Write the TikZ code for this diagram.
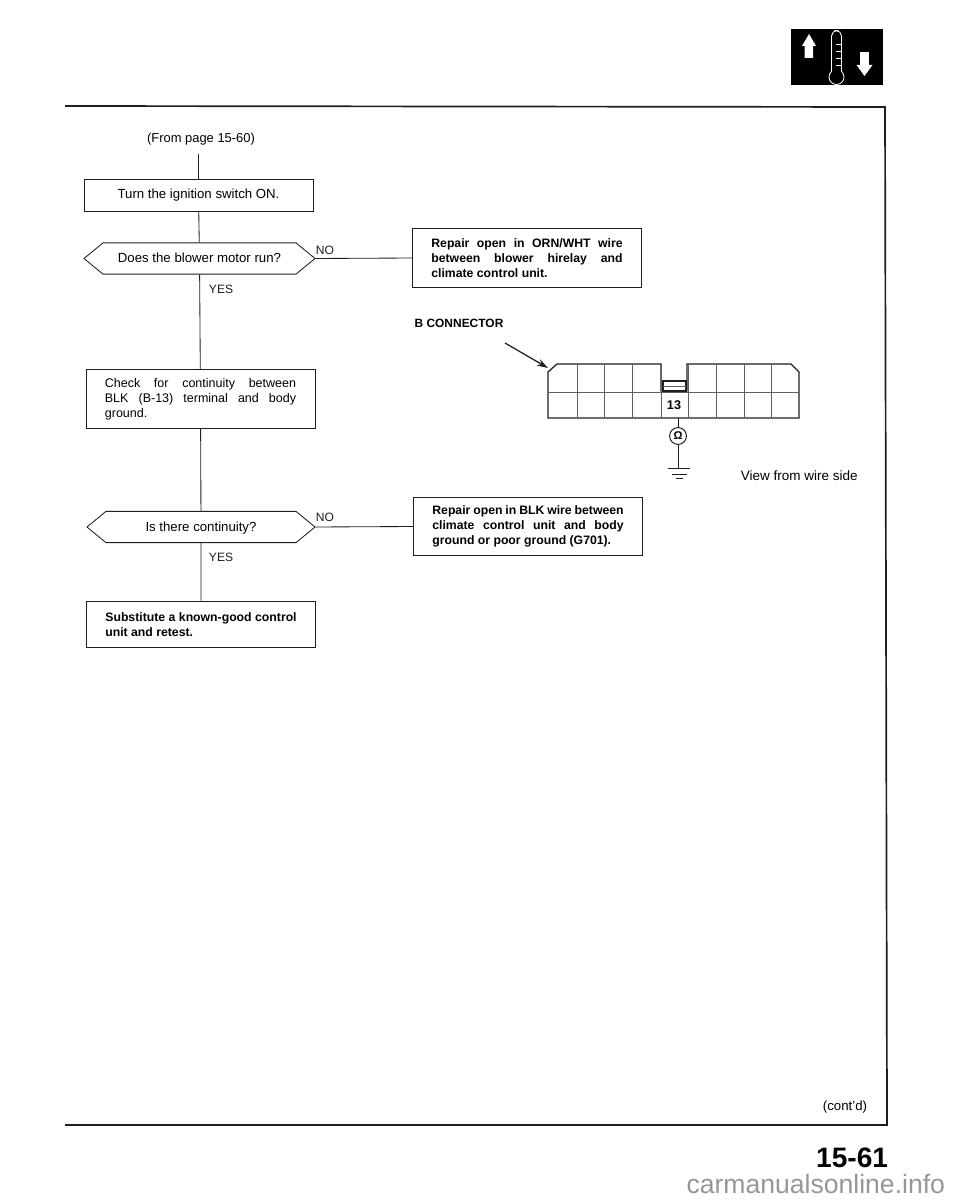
\documentclass[tikz,border=0pt]{standalone}
\usepackage{fontspec}
\setmainfont{Liberation Sans}
\usepackage{xcolor}
\usepackage{tikz}
\usetikzlibrary{arrows.meta,positioning,calc,shapes.misc}
\definecolor{clrInk}{RGB}{30,30,30}
\definecolor{clrMark}{RGB}{150,150,150}
\newcommand{\asktext}[1]{\raisebox{-3.2pt}{#1}}
\tikzset{
  stepbox/.style={rectangle,draw=clrInk,line width=0.6pt,fill=white,
    font=\fontsize{9.4}{11}\selectfont,minimum width=5.725cm,align=center,inner sep=0pt},
  repairbox/.style={rectangle,draw=clrInk,line width=0.6pt,fill=white,
    font=\fontsize{8.7}{10.8}\selectfont\bfseries,text width=4.78cm,align=justify,
    inner xsep=0.4725cm,inner ysep=0pt},
  decision/.style={chamfered rectangle,chamfered rectangle angle=50.6,
    chamfered rectangle ysep=0.39cm,
    draw=clrInk,line width=0.6pt,fill=white,
    font=\fontsize{9.4}{11}\selectfont,minimum width=5.725cm,inner sep=0pt,
    text height=0pt,text depth=0pt},
  wire/.style={line width=0.6pt,color=clrInk},
  answer/.style={font=\fontsize{8.6}{11}\selectfont,text=clrInk}
}
\begin{document}
\begin{tikzpicture}[
    x=0.025cm,y=-0.025cm,
    >=Stealth,
    conn/.style={draw=clrInk,line width=0.9pt},
    grid/.style={draw=clrInk!70,line width=0.4pt}
]
\useasboundingbox (0,0) rectangle (960,1200);

% Page frame and tab
\draw[line width=1.2pt,clrInk] (65,106) -- (885,107) -- (887,1125) -- (65,1125);
\fill[black] (791,29) rectangle (883,85);
\fill[white] (809,34) -- (816,46) -- (813,46) -- (813,58) -- (804.5,58) -- (804.5,46) -- (802,46) -- cycle;
\fill[white] (860,52) rectangle (869,65);
\fill[white] (856.5,65) -- (872.5,65) -- (864.5,76) -- cycle;
\draw[white,line width=0.6pt,rounded corners=4pt] (831.5,74) -- (831.5,30.5) -- (841.5,30.5) -- (841.5,74);
\draw[white,line width=0.6pt,fill=black] (836.5,77) circle[radius=7.5];
\fill[black] (832.2,68) rectangle (840.8,72);
\foreach \y in {44,51,58,65} \draw[white,line width=0.4pt] (836,\y) -- (841,\y);

% Flow down the left side
\node[font=\fontsize{9.2}{11}\selectfont] (frompage) at (201,139) {(From page 15-60)};
\node[stepbox,minimum height=0.78cm] (turn) at (198.5,195.5) {Turn the ignition switch ON.};
\node[decision,minimum width=5.775cm] (blower) at (199.5,258.5) {\asktext{Does the blower motor run?}};
\node[repairbox,minimum height=1.47cm] (repairA) at (527,258) {%
  Repair open in ORN/WHT wire\linebreak between blower hirelay and\linebreak climate control unit.};
\node[stepbox,text width=4.78cm,align=justify,
  inner xsep=0.4725cm,minimum height=1.47cm,font=\fontsize{8.9}{10.8}\selectfont] (check) at (200.5,399) {%
  Check for continuity between\linebreak BLK (B-13) terminal and body\linebreak ground.};
\node[decision,minimum width=5.7cm] (cont) at (201,527) {\asktext{Is there continuity?}};
\node[repairbox,minimum height=1.47cm] (repairB) at (528,526.5) {%
  Repair open in BLK wire between\linebreak climate control unit and body\linebreak ground or poor ground (G701).};
\node[repairbox,minimum height=1.17cm] (subst) at (201,624.5) {%
  Substitute a known-good control unit and retest.};

\draw[wire] (turn.north |- frompage.south) ++(0,4) -- (turn.north);
\draw[wire] (turn) -- (blower);
\draw[wire] (blower) -- (check);
\draw[wire] (check) -- (cont);
\draw[wire] (cont) -- (subst);
\draw[wire] (blower.east) -- (repairA.west);
\draw[wire] (cont.east) -- (repairB.west);

\node[answer,anchor=west] (noA) at (311,250) {NO};
\node[answer,anchor=west] (yesA) at (204,289) {YES};
\node[answer,anchor=west] (noB) at (311,517) {NO};
\node[answer,anchor=west] (yesB) at (204,557) {YES};

% B connector, seen from the wire side
\node[font=\fontsize{8.5}{10}\selectfont\bfseries] (bconn) at (459,323) {B CONNECTOR};
\coordinate (tail) at (505,343);
\coordinate (head) at (548,368);
\draw[line width=0.9pt,clrInk,-{Stealth[length=8pt,width=5pt]}] (tail) -- (head);
\draw[conn] (548,372) -- (557,364) -- (661,364) -- (661,391) -- (687,391) -- (687,364)
  -- (791,364) -- (799,372) -- (799,418) -- (548,418) -- cycle;
\draw[grid] (548,392) -- (799,392);
\foreach \x in {577,604,632,661,688,716,744,771} \draw[grid] (\x,364) -- (\x,418);
\draw[conn] (663,381) rectangle (686,391);
\draw[grid] (663,386) -- (686,386);
\node[font=\fontsize{9}{10}\selectfont\bfseries] (pin) at (674,405) {13};
\node[circle,draw=clrInk,line width=0.7pt,minimum size=0.42cm,inner sep=0pt,
  font=\fontsize{8}{8}\selectfont\bfseries] (meter) at (678,436) {Ω};
\coordinate (pinfoot) at (678,418);
\coordinate (gnd) at (678,468);
\draw[wire] (pinfoot) -- (meter);
\draw[wire] (meter) -- (gnd);
\draw[wire] (668,468) -- (690,468);
\draw[wire] (672,474) -- (687,474);
\draw[wire] (676,478) -- (683,478);
\node[font=\fontsize{9.6}{11}\selectfont,anchor=west] (view) at (736,475.5) {View from wire side};

% Footer
\node[font=\fontsize{9.4}{11}\selectfont,anchor=east] (contd) at (872,1107) {(cont'd)};
\node[font=\fontsize{20}{22}\selectfont\bfseries,anchor=east] (pageno) at (893,1158) {15-61};
\node[font=\fontsize{18.9}{20}\selectfont,text=clrMark,anchor=east] (mark) at (950,1184) {carmanualsonline.info};
\end{tikzpicture}
\end{document}
